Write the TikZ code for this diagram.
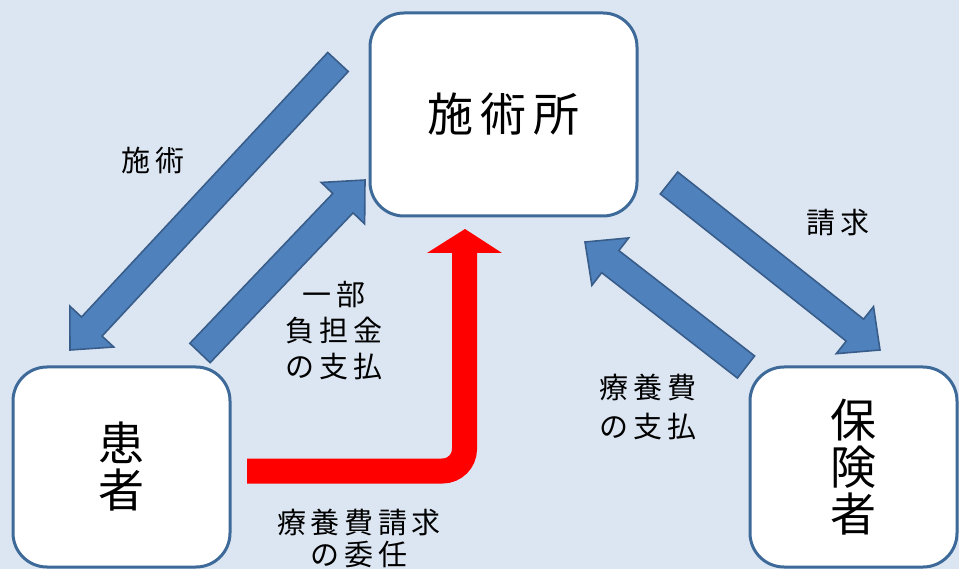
\documentclass[tikz,border=0pt]{standalone}
\usepackage{fontspec}
\newfontfamily\jp[LetterSpace=16]{Noto Sans CJK JP}
\usetikzlibrary{calc}
\definecolor{bgblue}{HTML}{DCE6F2}
\definecolor{boxline}{HTML}{3E6A9A}
\definecolor{arrfill}{HTML}{4F81BD}
\definecolor{arrline}{HTML}{385D8A}
\tikzset{
  party/.style={draw=boxline, line width=3pt, fill=white, rounded corners=34pt, inner sep=0pt, align=center},
  bigtext/.style={font=\jp\fontsize{46}{47}\selectfont},
  lbl/.style={font=\jp\fontsize{29}{36}\selectfont, align=center, inner sep=0pt},
  barrow/.style={fill=arrfill, draw=arrline, line width=1.6pt, line join=miter},
  redline/.style={draw=red, line width=25pt, rounded corners=22pt},
}
\newcommand{\blockarrow}[2]{%
  \coordinate (h) at ($(#2)!32pt!(#1)$);
  \filldraw[barrow] ($(#1)!14pt!90:(#2)$) -- ($(h)!14pt!90:(#2)$) -- ($(h)!30pt!90:(#2)$) -- (#2)
    -- ($(h)!30pt!-90:(#2)$) -- ($(h)!14pt!-90:(#2)$) -- ($(#1)!14pt!-90:(#2)$) -- cycle;
}
\begin{document}
\begin{tikzpicture}[x=1pt,y=-1pt]
\fill[bgblue] (0,0) rectangle (959,569);
\useasboundingbox (0,0) rectangle (959,569);

% parties
\node[party, bigtext, minimum width=267pt, minimum height=203pt] (clinic) at (503.5,114.5) {施術所};
\node[party, bigtext, minimum width=217pt, minimum height=200pt] (patient) at (121.5,467) {患\\者};
\node[party, bigtext, minimum width=207pt, minimum height=200pt] (insurer) at (853.5,467) {保\\険\\者};

% block arrows
\coordinate (a1t) at (338,62);  \coordinate (a1h) at (70,350);
\coordinate (a2t) at (200,353); \coordinate (a2h) at (365,180);
\coordinate (a3t) at (669,183); \coordinate (a3h) at (880,350);
\coordinate (a4t) at (746,367); \coordinate (a4h) at (585,242);
\blockarrow{a1t}{a1h}
\blockarrow{a2t}{a2h}
\blockarrow{a3t}{a3h}
\blockarrow{a4t}{a4h}

% red arrow
\coordinate (r0) at (247,471);
\coordinate (rc) at (464.5,471);
\coordinate (rh) at (464.5,250);
\draw[redline] (r0) -- (rc) -- (rh);
\coordinate (rtip) at (465,229);
\coordinate (rl) at (427,253);
\coordinate (rr) at (502,253);
\fill[red] (rl) -- (rtip) -- (rr) -- cycle;

% labels
\node[lbl] (l1) at (153,160) {施術};
\node[lbl] (l2) at (334,331) {一部\\負担金\\の支払};
\node[lbl] (l3) at (838,223) {請求};
\node[lbl] (l4) at (648,407) {療養費\\[3pt]の支払};
\node[lbl] (l5) at (359,538) {療養費請求\\[-4pt]の委任};
\end{tikzpicture}
\end{document}
